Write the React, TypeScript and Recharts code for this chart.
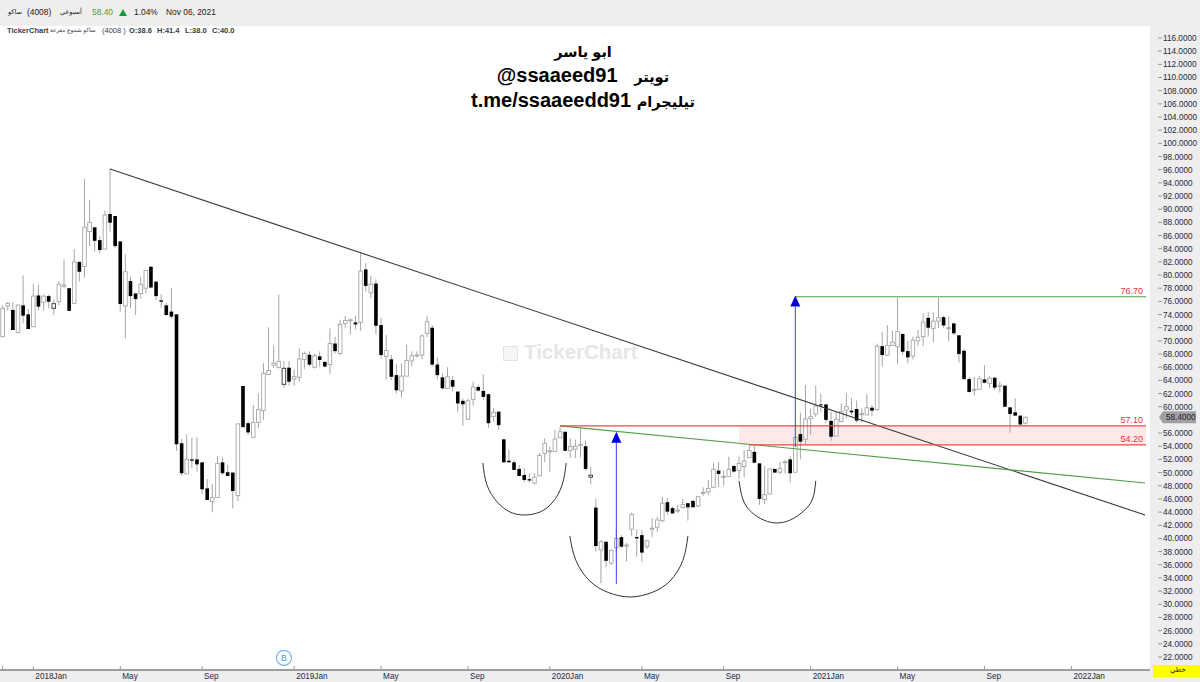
import React from 'react';
import { ComposedChart, Bar, Line, XAxis, YAxis, ReferenceLine, ReferenceArea, ReferenceDot } from 'recharts';

const opens = [
70.64,75.3,74.7,71.25,75.4,74.03,72.15,76.9,75.85,76.8,
74.95,75.95,78.3,78,75.7,82,81.3,86.6,87.25,85.3,
83.95,89.27,88.97,85.1,75.3,79.1,77.2,77.2,78,81.27,
79,76.15,75.4,74.45,74.03,54.45,49.8,52,52,51.55,
47.6,45.6,46.2,51.55,50.05,50,46.5,63.15,57.5,55.36,
57.6,59.4,64.9,66.3,65.94,63.4,65.93,64.2,64.47,67.2,
67.9,66,67.65,66.8,66.4,69.6,68.1,72.65,73.15,72.8,
72.8,80.85,77.3,78.7,72.4,67.65,67.2,64.8,62.4,64.65,
66.95,67.85,67.85,71.15,72,66.4,64.45,62.8,64.05,62.3,
60.9,58.1,61.1,63,62.4,61.9,58.5,59.25,55.05,51.8,
51.56,50.55,49.64,49,48.4,49.5,52.9,53.3,53.2,55.3,
56.2,53.35,53.55,54.2,54,49.3,44.68,38.25,39.5,36.25,
38.6,40.2,39,41.4,40.2,40.5,38.75,41.55,41.7,42.7,
45.5,44.6,44.3,44.68,45.35,45.7,44.93,47,47.06,47.77,
50.3,49.4,49.4,51,50.3,50.9,52.3,53.15,51.4,45.9,
46.75,50.55,50.05,51.5,52,50.05,55.85,55.05,58.2,58.9,
60.35,60.35,57.85,55.55,57.75,59.5,59.4,59.65,58.95,58.75,
59.85,59.6,69.2,67.85,69.3,69.1,71.05,68.45,67.7,70,
70.65,73.5,71.9,73,73.6,72,72.65,70.85,68.5,64.2,
62.65,62.65,64.15,63.55,64.4,63.25,63.2,59.9,59.15,58.65,
57.5];
const closes = [
74.95,75.7,71.65,75.45,73.83,71.8,76.8,75.2,76.8,75.95,
75.65,78.6,78.5,74.55,82,80.5,87.25,88,85.2,83.8,
89.1,87.95,84.4,75.6,80.5,76.8,76.35,78.6,80.7,78.1,
76.8,75.95,73.93,73.68,54.3,49.9,52,51.8,51.25,47.46,
45.84,46.2,51.4,49.9,49.5,47.2,57.4,56.9,56.1,57.64,
59.6,65.08,65.5,66.6,66.85,65.84,63.8,64.56,67.25,68.1,
66.4,67.75,67.1,66.1,69.6,68.45,72.5,73.1,73.2,72.5,
80.6,78.35,78.6,72.3,67.85,68.55,64.55,62.5,64.65,67,
67.75,67.85,70.75,72.9,66.4,64.8,62.8,64.55,63.05,60.5,
60.37,60.9,63,62.45,61.5,57.5,59.15,57.2,51.56,51.56,
50.4,49.5,48.88,48.8,49.3,52.6,54.45,53.3,55.1,56.2,
53.3,53.95,54,54.3,50.55,49.6,38.85,39.5,36.6,38.15,
40,38.75,39,43.65,40,37.85,39.65,41.55,42.8,45.35,
44.07,43.8,44.3,45.13,44.73,44.73,46.35,47,47.6,50.5,
49.8,49.4,50.5,50.15,51.4,51.75,53.35,51.5,46,46.65,
50.55,50,50.65,51.65,49.9,55.35,54.7,58.15,58.5,60.1,
60.25,58,55.45,58.1,59.25,60,59.15,57.9,58.95,59.85,
59.4,69.2,67.85,69.3,69.8,71.4,68.35,67.5,70.1,70.55,
72.85,72,73,73.5,72.35,72,71.15,68,64.2,62.25,
62.65,64.25,63.65,64.35,62.9,63.25,60,58.9,58.65,57.3,
58.4];
const highs = [
75.4,75.9,75.9,75.45,79.96,74.85,78.64,78.5,77,77,
76.3,79.1,82.4,78,83.95,82,94.6,91.4,87.25,85.9,
89.8,96.2,88.97,85.1,83.15,79.75,77.2,79.75,80.7,81.27,
79,77.1,75.8,78,74.03,55.1,55.8,55.3,55.35,51.55,
49,48.3,52.5,52.3,51.15,50,57.4,63.15,57.84,60.27,
62,66.6,72.06,69.3,77,66.95,66.95,65.6,68.87,68.4,
68.4,68,68.4,67,71.9,70.6,73.2,73.8,73.4,73.8,
83.4,81.8,79.85,79.35,73.5,70.9,67.85,66.5,66.6,69.4,
68.4,68.4,71,73.85,72.4,67.5,65.05,66,64.65,62.3,
61.25,61.25,63.8,63.3,64.9,62,59.85,59.3,55.05,53.5,
51.9,51.15,50.65,49.9,49.9,53,55.2,53.95,56.5,56.9,
56.2,55.2,55,56.7,54.85,50.9,46,39.75,39.5,38.35,
41.3,40.5,39.3,43.9,41.4,41.3,39.8,43.05,43.3,46.35,
46.1,44.85,45.1,46,45.35,45.85,46.45,47.77,48.9,51.4,
51.6,50.3,52.4,51.15,52.4,53.4,54.2,54.05,51.4,51,
50.55,50.65,51.65,51.9,52.5,55.5,59.1,63.3,59.75,63.2,
62,60.35,59.25,59.25,60.5,62,61.3,60.95,59.75,61.9,
60.25,69.6,71.4,72.4,71.55,76.6,71.15,70,70.65,71.65,
74.2,74.45,74.35,76.6,73.8,73.7,72.8,70.85,68.75,64.55,
64.55,64.65,66.35,64.65,64.55,63.8,63.2,60,61.3,58.65,
58.5];
const lows = [
70.6,74.6,71.65,71.25,72.67,71.8,72.15,74.6,74.6,74.95,
73.9,75.45,78,74.55,75.7,79,79.6,84.4,83.55,83.3,
83.95,86.6,84.05,74.45,70.4,74.95,73.9,76.45,77.2,78.1,
76.2,75.05,73.8,73.4,53.3,49.54,49.8,50.65,50.15,46.7,
45.84,44,46.2,49.64,49.4,44.55,45.7,56.9,55.7,55.36,
56.7,58,64.9,65.9,65.84,62.9,63.2,63.2,63.8,65.7,
66.1,65.8,66.1,66,65,68.1,67.85,72,71,71.75,
71.55,77.5,76.5,71,67.35,64.05,64.05,62,61.4,64.65,
66.1,67.5,67.2,70.6,66.1,64.15,62.65,62.8,62.3,59.25,
57.1,58.1,60.15,62.3,61.1,56.8,57.7,56.45,51.56,51.56,
50.4,49.4,48.5,48.4,48.2,49.5,51.56,50.15,53.2,55.3,
53.3,52.2,52.2,52.3,50.25,48.2,38,33.2,35.6,36,
38,38.6,36.5,40.4,37.25,36.5,38.4,40.2,40.95,42.45,
43.6,43.7,43.9,44.6,42.7,44.73,44.75,46.5,46.6,47.6,
47.77,48,49.4,50,49,49.3,52.3,51.4,45.1,45.2,
46.75,49.9,49.8,49.9,48.45,50.05,52,54.35,55.7,58.5,
59.25,57.5,54.85,55.55,57.6,58.25,58.75,57.6,57.7,58.75,
58.6,59.4,66.1,67.7,69.3,66.45,67.85,66.6,67.2,69.2,
69.2,70.65,69.8,71.9,72,69.9,70.9,66.7,64.05,62.15,
61.7,62.65,63.55,62.8,62.55,62.15,60,56.05,58.65,57.3,
57.3];
const darkOutlined = [10, 55, 115];

const yTickValues = [116,114,112,110,108,106,104,102,100,98,96,94,92,90,88,86,84,82,80,78,76,74,72,70,68,66,64,62,60,58.4,56,54,52,50,48,46,44,42,40,38,36,34,32,30,28,26,24,22];
const lastPrice = 58.4;
const xTickIndex = [0,6,23,39,57,74,91,107,125,141,158,175,192,209];
const xTickLabels = ['','2018Jan','May','Sep','2019Jan','May','Sep','2020Jan','May','Sep','2021Jan','May','Sep','2022Jan'];

const mainTrend = [{ x: 21, y: 96.1 }, { x: 223.4, y: 43.56 }];
const greenTrend = [{ x: 109, y: 57.1 }, { x: 223.4, y: 48.42 }];
const resistanceTop = 76.7;
const zoneTop = 57.1;
const zoneBottom = 54.2;

const arcOne = [
  { i: 93.9, p: 51.46 }, { i: 94.7, p: 48.12 }, { i: 96.7, p: 45.54 }, { i: 99.2, p: 44.02 }, { i: 102, p: 43.56 },
  { i: 105.1, p: 44.02 }, { i: 107.6, p: 45.54 }, { i: 109.4, p: 48.12 }, { i: 110.2, p: 51.46 },
];
const arcTwo = [
  { i: 110.9, p: 40.37 }, { i: 112.1, p: 36.65 }, { i: 114.8, p: 33.54 }, { i: 118.4, p: 31.8 }, { i: 122.7, p: 31.11 },
  { i: 127, p: 31.8 }, { i: 130.5, p: 33.54 }, { i: 133, p: 36.65 }, { i: 134, p: 40.37 },
];
const arcThree = [
  { i: 144, p: 48.73 }, { i: 144.8, p: 45.84 }, { i: 146.5, p: 43.94 }, { i: 148.9, p: 42.76 }, { i: 151.4, p: 42.35 },
  { i: 153.9, p: 42.76 }, { i: 156.3, p: 43.94 }, { i: 158.3, p: 45.84 }, { i: 159, p: 48.73 },
];

const table = opens.map((o, i) => ({ i, o, h: highs[i], l: lows[i], c: closes[i] }));
const FONT = '"Liberation Sans","DejaVu Sans",sans-serif';

const Candle = (props: any) => {
  const { x, y, width, height, payload } = props;
  const { o, h, l, c, i } = payload;
  const k = height / (h - l);
  const cx = x + width / 2;
  const top = y + (h - Math.max(o, c)) * k;
  const bh = Math.max(Math.abs(o - c) * k, 1);
  const black = c < o;
  const w = 3.6;
  return (
    <g>
      <line x1={cx} x2={cx} y1={y} y2={y + height} stroke="#a6a6a6" strokeWidth={1} />
      {black ? (
        <rect x={cx - w / 2} y={top} width={w} height={bh} fill="#000" />
      ) : (
        <rect x={cx - w / 2} y={top} width={w} height={bh} fill="#fff" stroke={darkOutlined.includes(i) ? '#333' : '#a6a6a6'} strokeWidth={0.9} />
      )}
    </g>
  );
};

const YTick = (props: any) => {
  const { x, y, payload } = props;
  const v = payload.value;
  if (v === lastPrice) {
    return (
      <g>
        <polygon points={`${x + 1},${y} ${x + 5},${y - 6} ${x + 38},${y - 6} ${x + 38},${y + 6} ${x + 5},${y + 6}`} fill="#a0a0a0" />
        <text x={x + 8} y={y + 3} fontSize={8.2} fontFamily={FONT} fill="#1c2233">{v.toFixed(4)}</text>
      </g>
    );
  }
  return (
    <g>
      <line x1={x} x2={x + 4} y1={y} y2={y} stroke="#999" />
      <text x={x + 5} y={y + 3} fontSize={8.2} fontFamily={FONT} fill="#1c2a44">{v.toFixed(4)}</text>
    </g>
  );
};

const XTick = (props: any) => {
  const { x, payload } = props;
  const idx = xTickIndex.indexOf(payload.value);
  return (
    <g>
      <line x1={x} x2={x} y1={666} y2={670} stroke="#999" />
      <text x={x + 2} y={679} fontSize={8.2} fontFamily={FONT} fill="#1c2a44">{xTickLabels[idx]}</text>
    </g>
  );
};

const priceLabel = (text: string) => (p: any) => (
  <text x={p.cx} y={p.cy - 3} textAnchor="end" fontSize={9} fontFamily={FONT} fill="#f0303a">{text}</text>
);
const arrowHead = (p: any) => (
  <polygon points={`${p.cx},${p.cy} ${p.cx - 5},${p.cy + 11} ${p.cx + 5},${p.cy + 11}`} fill="#0000e6" />
);
const badge = (p: any) => (
  <g>
    <circle cx={p.cx} cy={p.cy} r={7.5} fill="#fff" stroke="#7ab6ee" strokeWidth={1.2} />
    <text x={p.cx} y={p.cy + 3} textAnchor="middle" fontSize={8.5} fontFamily={FONT} fill="#4d93dc">B</text>
  </g>
);

const abs = (left: number, top: number, extra: any = {}) => ({
  position: 'absolute' as const, left, top, whiteSpace: 'nowrap' as const, fontFamily: FONT, ...extra,
});
const arabicTitle = { fontSize: 14.5 };

export default function App() {
  return (
    <div style={{ position: 'absolute', left: 0, top: 0, width: 1200, height: 682, overflow: 'hidden', background: '#fff' }}>
      <div style={{ position: 'absolute', left: 0, top: 0, width: 1200, height: 26, background: '#eeeeee' }} />
      <div style={{ position: 'absolute', left: 1150, top: 26, width: 50, height: 656, background: '#eeeeee' }} />
      <div style={{ position: 'absolute', left: 0, top: 670, width: 1150, height: 12, background: '#eeeeee' }} />
      <div style={{ position: 'absolute', left: 1153, top: 665, width: 47, height: 12, background: '#ffff00' }} />
      <div style={abs(1170, 666, { fontSize: 7, color: '#222' })}>خطي</div>

      <div style={abs(8, 8, { fontSize: 6.5, color: '#222' })}>ساكو</div>
      <div style={abs(27, 7, { fontSize: 8.4, color: '#222' })}>(4008)</div>
      <div style={abs(60, 8, { fontSize: 6.5, color: '#222' })}>أسبوعي</div>
      <div style={abs(92, 7, { fontSize: 8.4, color: '#3f9e45' })}>58.40</div>
      <div style={{ position: 'absolute', left: 119, top: 9, width: 0, height: 0, borderLeft: '4px solid transparent', borderRight: '4px solid transparent', borderBottom: '7px solid #149a3e' }} />
      <div style={abs(134, 7, { fontSize: 8.4, color: '#222' })}>1.04%</div>
      <div style={abs(166, 7, { fontSize: 8.4, color: '#222' })}>Nov 06, 2021</div>

      <div style={abs(7, 26, { fontSize: 7.5, fontWeight: 700, color: '#3a3a4a' })}>TickerChart</div>
      <div style={abs(50, 27, { fontSize: 5.8, color: '#3a3a4a' })}>ساكو شموع مفرغة</div>
      <div style={abs(102, 26, { fontSize: 7.5, color: '#3a3a4a' })}>(4008 )</div>
      <div style={abs(129, 26, { fontSize: 7.5, fontWeight: 700, color: '#3a3a4a' })}>O:38.6</div>
      <div style={abs(157, 26, { fontSize: 7.5, fontWeight: 700, color: '#3a3a4a' })}>H:41.4</div>
      <div style={abs(185, 26, { fontSize: 7.5, fontWeight: 700, color: '#3a3a4a' })}>L:38.0</div>
      <div style={abs(212, 26, { fontSize: 7.5, fontWeight: 700, color: '#3a3a4a' })}>C:40.0</div>

      <div style={{ position: 'absolute', left: 503, top: 346, width: 13, height: 13, border: '1.5px solid #e4e4e4', background: '#f5f5f5' }} />
      <div style={abs(524, 340, { fontSize: 20.5, fontWeight: 700, color: '#e6e6e6' })}>TickerChart</div>

      <ComposedChart width={1200} height={682} data={table} margin={{ top: 26, right: 0, bottom: 0, left: 0 }} style={{ position: 'absolute', left: 0, top: 0 }}>
        <XAxis
          dataKey="i"
          type="number"
          domain={[-0.522, 224.36]}
          allowDataOverflow
          ticks={xTickIndex}
          interval={0}
          height={12}
          tickLine={false}
          axisLine={{ stroke: '#808080', strokeWidth: 1.5 }}
          tick={<XTick />}
        />
        <YAxis
          orientation="right"
          type="number"
          width={50}
          domain={[20.02, 117.82]}
          allowDataOverflow
          ticks={yTickValues}
          interval={0}
          axisLine={false}
          tickLine={false}
          tick={<YTick />}
        />
        <ReferenceArea x1={144} x2={223.6} y1={zoneBottom} y2={zoneTop} fill="#ffe8e8" fillOpacity={1} stroke="none" />
        <Bar dataKey={(d: any) => [d.l, d.h]} barSize={4} shape={<Candle />} isAnimationActive={false} />
        <ReferenceLine segment={mainTrend} stroke="#3a3a3a" strokeWidth={1.1} />
        <ReferenceLine segment={greenTrend} stroke="#4f9f47" strokeWidth={1.1} />
        <ReferenceLine segment={[{ x: 109, y: zoneTop }, { x: 223.6, y: zoneTop }]} stroke="#f04848" strokeWidth={1.3} />
        <ReferenceLine segment={[{ x: 146, y: zoneBottom }, { x: 223.6, y: zoneBottom }]} stroke="#f04848" strokeWidth={1.3} />
        <ReferenceLine segment={[{ x: 155, y: resistanceTop }, { x: 223.6, y: resistanceTop }]} stroke="#4f9f47" strokeWidth={1.1} />
        <ReferenceLine segment={[{ x: 120, y: 33.1 }, { x: 120, y: 54.6 }]} stroke="#3c3cf0" strokeWidth={1} />
        <ReferenceLine segment={[{ x: 155, y: 53.9 }, { x: 155, y: 75.2 }]} stroke="#3c3cf0" strokeWidth={1} />
        <Line data={arcOne} dataKey="p" type="natural" stroke="#333" strokeWidth={1} dot={false} activeDot={false} isAnimationActive={false} />
        <Line data={arcTwo} dataKey="p" type="natural" stroke="#333" strokeWidth={1} dot={false} activeDot={false} isAnimationActive={false} />
        <Line data={arcThree} dataKey="p" type="natural" stroke="#333" strokeWidth={1} dot={false} activeDot={false} isAnimationActive={false} />
        <ReferenceDot x={120} y={56.2} r={0} shape={arrowHead} />
        <ReferenceDot x={155} y={76.9} r={0} shape={arrowHead} />
        <ReferenceDot x={223} y={resistanceTop} r={0} shape={priceLabel('76.70')} />
        <ReferenceDot x={223} y={zoneTop} r={0} shape={priceLabel('57.10')} />
        <ReferenceDot x={223} y={zoneBottom} r={0} shape={priceLabel('54.20')} />
        <ReferenceDot x={55} y={21.85} r={0} shape={badge} />
      </ComposedChart>

      <div style={{ position: 'absolute', left: 383, top: 41, width: 400, textAlign: 'center', fontFamily: FONT, fontWeight: 700, fontSize: 20, lineHeight: '23px', color: '#000' }}>
        <div style={arabicTitle}>ابو ياسر</div>
        <div dir="rtl"><span style={arabicTitle}>تويتر</span>{'\u00a0\u00a0\u00a0'}<span dir="ltr">@ssaaeed91</span></div>
        <div dir="rtl"><span style={arabicTitle}>تيليجرام</span>{'\u00a0'}<span dir="ltr">t.me/ssaaeedd91</span></div>
      </div>
    </div>
  );
}
